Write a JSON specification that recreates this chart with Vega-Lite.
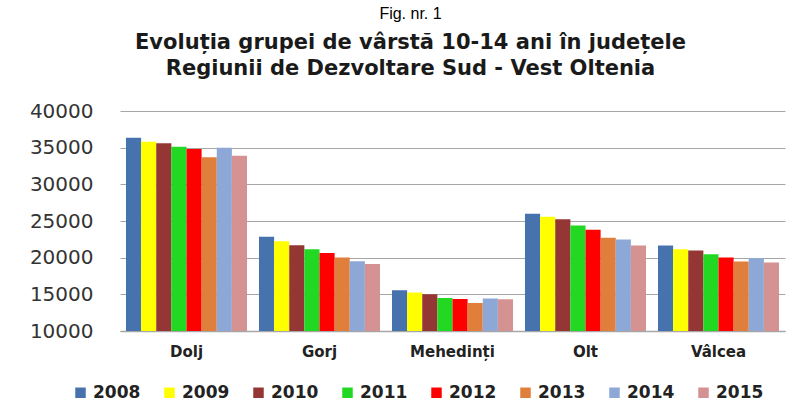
{
  "$schema": "https://vega.github.io/schema/vega-lite/v6.json",
  "autosize": {"type": "none"},
  "width": 665,
  "height": 220,
  "padding": {"left": 120, "top": 111, "right": 18, "bottom": 83},
  "background": "white",
  "title": {
    "text": "Fig. nr. 1",
    "subtitle": ["Evoluția grupei de vârstă 10-14 ani în județele", "Regiunii de Dezvoltare Sud - Vest Oltenia"],
    "anchor": "middle",
    "frame": "group",
    "dx": -42,
    "offset": 22,
    "font": "Liberation Sans",
    "fontSize": 16,
    "fontWeight": "normal",
    "color": "#000000",
    "subtitleFont": "DejaVu Sans",
    "subtitleFontSize": 21,
    "subtitleFontWeight": "bold",
    "subtitleColor": "#1a1a1a",
    "subtitleLineHeight": 26,
    "subtitlePadding": 10
  },
  "data": {
    "values": [
      {"judet": "Dolj", "an": "2008", "valoare": 36350},
      {"judet": "Dolj", "an": "2009", "valoare": 35810},
      {"judet": "Dolj", "an": "2010", "valoare": 35590},
      {"judet": "Dolj", "an": "2011", "valoare": 35130},
      {"judet": "Dolj", "an": "2012", "valoare": 34810},
      {"judet": "Dolj", "an": "2013", "valoare": 33680},
      {"judet": "Dolj", "an": "2014", "valoare": 34990},
      {"judet": "Dolj", "an": "2015", "valoare": 33900},
      {"judet": "Gorj", "an": "2008", "valoare": 22840},
      {"judet": "Gorj", "an": "2009", "valoare": 22250},
      {"judet": "Gorj", "an": "2010", "valoare": 21700},
      {"judet": "Gorj", "an": "2011", "valoare": 21160},
      {"judet": "Gorj", "an": "2012", "valoare": 20650},
      {"judet": "Gorj", "an": "2013", "valoare": 20020},
      {"judet": "Gorj", "an": "2014", "valoare": 19520},
      {"judet": "Gorj", "an": "2015", "valoare": 19150},
      {"judet": "Mehedinți", "an": "2008", "valoare": 15560},
      {"judet": "Mehedinți", "an": "2009", "valoare": 15240},
      {"judet": "Mehedinți", "an": "2010", "valoare": 15010},
      {"judet": "Mehedinți", "an": "2011", "valoare": 14510},
      {"judet": "Mehedinți", "an": "2012", "valoare": 14370},
      {"judet": "Mehedinți", "an": "2013", "valoare": 13820},
      {"judet": "Mehedinți", "an": "2014", "valoare": 14420},
      {"judet": "Mehedinți", "an": "2015", "valoare": 14330},
      {"judet": "Olt", "an": "2008", "valoare": 25980},
      {"judet": "Olt", "an": "2009", "valoare": 25570},
      {"judet": "Olt", "an": "2010", "valoare": 25250},
      {"judet": "Olt", "an": "2011", "valoare": 24390},
      {"judet": "Olt", "an": "2012", "valoare": 23790},
      {"judet": "Olt", "an": "2013", "valoare": 22700},
      {"judet": "Olt", "an": "2014", "valoare": 22480},
      {"judet": "Olt", "an": "2015", "valoare": 21660},
      {"judet": "Vâlcea", "an": "2008", "valoare": 21660},
      {"judet": "Vâlcea", "an": "2009", "valoare": 21160},
      {"judet": "Vâlcea", "an": "2010", "valoare": 20980},
      {"judet": "Vâlcea", "an": "2011", "valoare": 20470},
      {"judet": "Vâlcea", "an": "2012", "valoare": 20020},
      {"judet": "Vâlcea", "an": "2013", "valoare": 19470},
      {"judet": "Vâlcea", "an": "2014", "valoare": 19930},
      {"judet": "Vâlcea", "an": "2015", "valoare": 19340}
    ]
  },
  "mark": {"type": "bar", "clip": true},
  "encoding": {
    "x": {
      "field": "judet",
      "type": "nominal",
      "sort": null,
      "scale": {"paddingInner": 0.09, "paddingOuter": 0.045},
      "axis": {
        "title": null,
        "labelAngle": 0,
        "ticks": false,
        "domain": true,
        "domainColor": "#a6a6a6",
        "domainWidth": 1.5,
        "labelFont": "DejaVu Sans",
        "labelFontWeight": "bold",
        "labelFontSize": 15,
        "labelColor": "#222222",
        "labelPadding": 13
      }
    },
    "xOffset": {
      "field": "an",
      "type": "nominal",
      "scale": {"paddingInner": 0, "paddingOuter": 0}
    },
    "y": {
      "field": "valoare",
      "type": "quantitative",
      "scale": {"domain": [10000, 40000], "nice": false, "zero": false},
      "axis": {
        "title": null,
        "values": [10000, 15000, 20000, 25000, 30000, 35000, 40000],
        "format": "d",
        "ticks": false,
        "domain": false,
        "grid": true,
        "gridColor": "#a6a6a6",
        "gridWidth": 1.2,
        "labelFont": "DejaVu Sans",
        "labelFontSize": 20,
        "labelColor": "#333333",
        "labelPadding": 27
      }
    },
    "color": {
      "field": "an",
      "type": "nominal",
      "scale": {
        "domain": ["2008", "2009", "2010", "2011", "2012", "2013", "2014", "2015"],
        "range": ["#4672AE", "#FFFF00", "#943634", "#22D822", "#FF0000", "#E07E3C", "#8DA8D6", "#D49392"]
      },
      "legend": {
        "title": null,
        "orient": "none",
        "direction": "horizontal",
        "legendX": -48,
        "legendY": 273,
        "symbolType": "square",
        "symbolSize": 110,
        "symbolStrokeWidth": 0,
        "labelFont": "DejaVu Sans",
        "labelFontWeight": "bold",
        "labelFontSize": 17,
        "labelColor": "#222222",
        "labelOffset": 4,
        "columnPadding": 20
      }
    }
  },
  "config": {
    "view": {"stroke": null}
  }
}
